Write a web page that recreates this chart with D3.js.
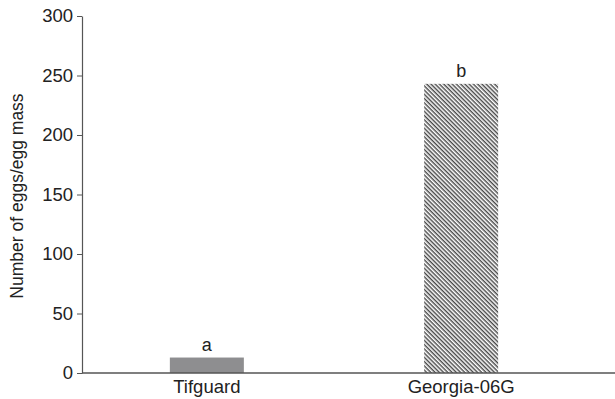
<!DOCTYPE html>
<html>
<head>
<meta charset="utf-8">
<script src="https://cdn.jsdelivr.net/npm/d3@7"></script>
<style>
  body { margin: 0; background: #fff; }
  text { font-family: "Liberation Sans", Arial, sans-serif; fill: #222; }
</style>
</head>
<body>
<svg></svg>
<script>
var width = 615;
var height = 399;

var cultivars = ["Tifguard", "Georgia-06G"];
var eggs = [13, 243];
var letters = ["a", "b"];
var y_ticks = [0, 50, 100, 150, 200, 250, 300];

var svg = d3.select("svg")
    .attr("width", width)
    .attr("height", height);

// hatch for the second bar
var defs = svg.append("defs");
var pat = defs.append("pattern")
    .attr("id", "hatch")
    .attr("patternUnits", "userSpaceOnUse")
    .attr("width", 3)
    .attr("height", 3)
    .attr("patternTransform", "rotate(45)");
pat.append("rect").attr("width", 3).attr("height", 3).attr("fill", "#fff");
pat.append("line")
    .attr("x1", 0).attr("y1", 0.75).attr("x2", 3).attr("y2", 0.75)
    .attr("stroke", "#333").attr("stroke-width", 1.3);

var axis_x = 82;
var x = d3.scaleBand()
    .domain(cultivars)
    .range([119, 549])
    .paddingInner(0.709)
    .paddingOuter(0.2);

var y = d3.scaleLinear()
    .domain([0, 300])
    .range([373, 16]);

// bars
svg.selectAll(".bar")
    .data(cultivars)
  .enter().append("rect")
    .attr("class", "bar")
    .attr("x", function(d) { return x(d); })
    .attr("width", x.bandwidth())
    .attr("y", function(d, i) { return y(eggs[i]); })
    .attr("height", function(d, i) { return y(0) - y(eggs[i]); })
    .attr("fill", function(d, i) { return i == 0 ? "#8e8e90" : "url(#hatch)"; });

// significance letters
svg.selectAll(".letter")
    .data(cultivars)
  .enter().append("text")
    .attr("class", "letter")
    .attr("x", function(d) { return x(d) + x.bandwidth() / 2; })
    .attr("y", function(d, i) { return y(eggs[i]) - 7; })
    .attr("text-anchor", "middle")
    .attr("font-size", 18)
    .text(function(d, i) { return letters[i]; });

// y axis
var yAxis = svg.append("g")
    .attr("transform", "translate(" + axis_x + ",0)")
    .call(d3.axisLeft(y).tickValues(y_ticks).tickSize(5).tickSizeOuter(0));
yAxis.select(".domain").attr("stroke", "#555").attr("stroke-width", 1.2);
yAxis.selectAll(".tick line").attr("stroke", "#555");
yAxis.selectAll(".tick text")
    .attr("font-size", 18.5)
    .attr("font-family", "Liberation Sans, Arial, sans-serif")
    .attr("fill", "#222")
    .attr("x", -9);

// x axis
var xAxis = svg.append("g")
    .attr("transform", "translate(0," + y(0) + ")");
xAxis.append("line")
    .attr("x1", axis_x).attr("x2", width)
    .attr("stroke", "#555").attr("stroke-width", 1.4);
xAxis.selectAll(".xlab")
    .data(cultivars)
  .enter().append("text")
    .attr("class", "xlab")
    .attr("x", function(d) { return x(d) + x.bandwidth() / 2; })
    .attr("y", 20)
    .attr("text-anchor", "middle")
    .attr("font-size", 18.5)
    .text(function(d) { return d; });

// y label
svg.append("text")
    .attr("transform", "translate(23,196) rotate(-90)")
    .attr("text-anchor", "middle")
    .attr("font-size", 17.5)
    .text("Number of eggs/egg mass");
</script>
</body>
</html>
